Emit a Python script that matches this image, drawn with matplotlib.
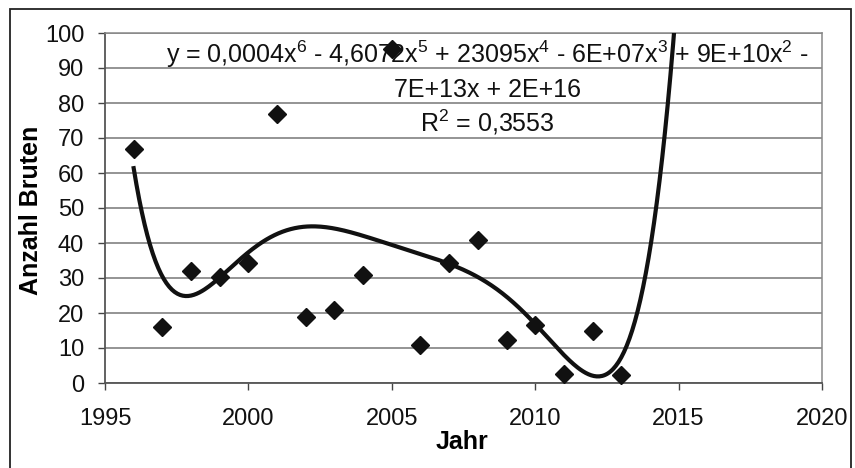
import numpy as np
import matplotlib
matplotlib.use("Agg")
import matplotlib.pyplot as plt
from matplotlib.patches import Rectangle

plt.rcParams["font.family"] = ["Liberation Sans", "DejaVu Sans"]
plt.rcParams["mathtext.fontset"] = "custom"
plt.rcParams["mathtext.rm"] = "Liberation Sans"
plt.rcParams["mathtext.it"] = "Liberation Sans:italic"
plt.rcParams["mathtext.bf"] = "Liberation Sans:bold"

# Brood counts per year
years = [1996, 1997, 1998, 1999, 2000, 2001, 2002, 2003, 2004,
         2005, 2006, 2007, 2008, 2009, 2010, 2011, 2012, 2013]
bruten = [67, 16, 32, 30.4, 34.3, 77, 18.8, 20.8, 31,
          95.3, 10.8, 34.2, 41, 12.2, 16.7, 2.7, 14.8, 2.3]

x_ticks = [1995, 2000, 2005, 2010, 2015, 2020]
y_ticks = [0, 10, 20, 30, 40, 50, 60, 70, 80, 90, 100]

equation_lines = [
    "y = 0,0004x$^{6}$ - 4,6072x$^{5}$ + 23095x$^{4}$ - 6E+07x$^{3}$ + 9E+10x$^{2}$ -",
    "7E+13x + 2E+16",
    "R$^{2}$ = 0,3553",
]

fig = plt.figure(figsize=(8.55, 4.68), dpi=100)
fig.patch.set_facecolor("white")

# outer chart-area frame (bottom edge runs off the figure)
fig.patches.append(Rectangle((10 / 855, -0.05), (851 - 10) / 855, 1 - 9 / 468 + 0.05,
                             transform=fig.transFigure, fill=False,
                             edgecolor="#222222", linewidth=1.3, zorder=0))

ax = fig.add_axes([105 / 855, 1 - 383 / 468, (822 - 105) / 855, (383 - 33) / 468])
ax.set_xlim(1995, 2020)
ax.set_ylim(0, 100)
ax.set_xticks(x_ticks)
ax.set_yticks(y_ticks)
ax.tick_params(axis="both", labelsize=17, direction="out", length=5,
               width=1.0, color="#444444", labelcolor="#111111")
ax.tick_params(axis="x", pad=13)
ax.tick_params(axis="y", pad=10)

ax.grid(axis="y", color="#777777", linewidth=1.1, zorder=0)
ax.set_axisbelow(True)
for side in ("left", "bottom"):
    ax.spines[side].set_color("#555555")
    ax.spines[side].set_linewidth(1.3)
for side in ("right", "top"):
    ax.spines[side].set_color("#888888")
    ax.spines[side].set_linewidth(1.1)

# 6th-order polynomial trendline, extended two years forward
xa = np.asarray(years, dtype=float)
ya = np.asarray(bruten, dtype=float)
x0 = xa.mean()
coef = np.polyfit(xa - x0, ya, 6)
xs = np.linspace(xa.min(), xa.max() + 2, 400)
ax.plot(xs, np.polyval(coef, xs - x0), color="#111111", linewidth=3.0,
        zorder=3, clip_on=True)

ax.plot(years, bruten, linestyle="none", marker="D", markersize=9.5,
        color="#111111", zorder=4, clip_on=False)

for i, (line, yb) in enumerate(zip(equation_lines, [91.4, 81.6, 71.8])):
    ax.text(2008.32, yb, line, ha="center", va="baseline",
            fontsize=18, color="#111111", zorder=2)

ax.set_xlabel("Jahr", fontsize=18, fontweight="bold")
ax.set_ylabel("Anzahl Bruten", fontsize=18, fontweight="bold")
ax.xaxis.set_label_coords(0.498, -0.134)
ax.yaxis.set_label_coords(-0.0865, 0.494)

fig.savefig("out.png", dpi=100)
